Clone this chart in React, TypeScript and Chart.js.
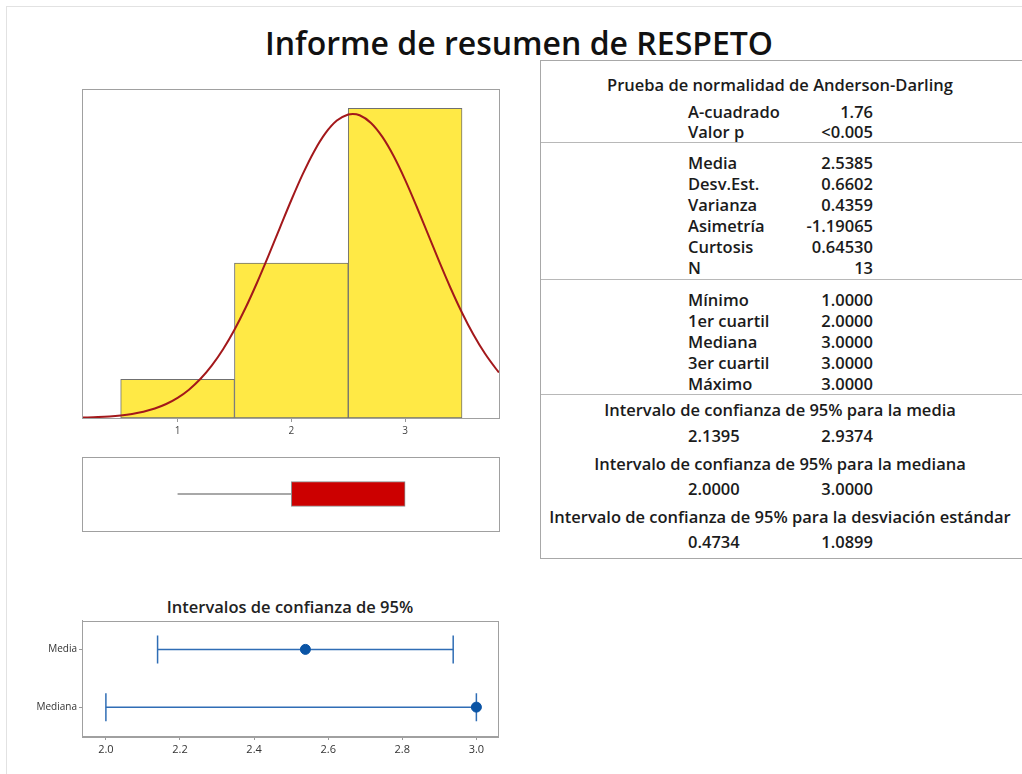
import React, { useEffect, useRef } from 'react';
import { Chart, registerables } from 'chart.js';
Chart.register(...registerables);

const FONT = '"Open Sans", "Noto Sans", sans-serif';

// ---------- data ----------
const reportTitle = 'Informe de resumen de RESPETO';
const binCenters = [1, 2, 3];
const binCounts = [1, 4, 8];
const histTicks = [1, 2, 3];
const histRange = [0.16, 3.825];
// fitted normal curve, in count units
const curveX = [0.16, 0.2, 0.3, 0.4, 0.5, 0.6, 0.7, 0.8, 0.9, 1.0, 1.1, 1.2, 1.3, 1.4, 1.5, 1.6, 1.7, 1.8, 1.9, 2.0, 2.1, 2.2, 2.3, 2.4, 2.5, 2.54, 2.6, 2.7, 2.8, 2.9, 3.0, 3.1, 3.2, 3.3, 3.4, 3.5, 3.6, 3.7, 3.8, 3.825];
const curveY = [0.012, 0.015, 0.025, 0.041, 0.067, 0.106, 0.163, 0.245, 0.361, 0.52, 0.732, 1.006, 1.352, 1.776, 2.28, 2.86, 3.507, 4.202, 4.921, 5.632, 6.3, 6.888, 7.359, 7.684, 7.842, 7.855, 7.821, 7.623, 7.262, 6.762, 6.153, 5.471, 4.755, 4.039, 3.353, 2.72, 2.157, 1.671, 1.266, 1.177];
// box plot: min, q1, median, q3, max
const boxStats = [1, 2, 3, 3, 3];

const ciTitle = 'Intervalos de confianza de 95%';
const ciCategories = ['Media', 'Mediana'];
const ciEstimates = [2.5385, 3.0];
const ciLower = [2.1395, 2.0];
const ciUpper = [2.9374, 3.0];
const ciRange = [1.9355, 3.057];

const adTitle = 'Prueba de normalidad de Anderson-Darling';
const adRows = [['A-cuadrado', '1.76'], ['Valor p', '<0.005']];
const descRows = [['Media', '2.5385'], ['Desv.Est.', '0.6602'], ['Varianza', '0.4359'], ['Asimetría', '-1.19065'], ['Curtosis', '0.64530'], ['N', '13']];
const quantRows = [['Mínimo', '1.0000'], ['1er cuartil', '2.0000'], ['Mediana', '3.0000'], ['3er cuartil', '3.0000'], ['Máximo', '3.0000']];
const ciTableRows = [
  ['Intervalo de confianza de 95% para la media', '2.1395', '2.9374'],
  ['Intervalo de confianza de 95% para la mediana', '2.0000', '3.0000'],
  ['Intervalo de confianza de 95% para la desviación estándar', '0.4734', '1.0899'],
];

// ---------- helpers ----------
const framePlugin = {
  id: 'frame',
  afterDatasetsDraw(chart: any, _args: any, opts: any) {
    const { ctx, chartArea: a } = chart;
    ctx.save();
    ctx.strokeStyle = opts.color || '#999';
    ctx.lineWidth = 1;
    ctx.strokeRect(Math.round(a.left) + 0.5, Math.round(a.top) + 0.5, Math.round(a.right - a.left), Math.round(a.bottom - a.top));
    ctx.restore();
  },
};

function ChartCanvas({ left, top, width, height, make }: any) {
  const ref = useRef<HTMLCanvasElement>(null);
  useEffect(() => {
    const chart = new Chart(ref.current as HTMLCanvasElement, make());
    return () => chart.destroy();
  }, []);
  return <canvas ref={ref} width={width} height={height} style={{ position: 'absolute', left, top, width, height }} />;
}

const histConfig = () => ({
  type: 'bar',
  data: {
    datasets: [
      {
        type: 'line',
        data: curveX.map((x, i) => ({ x, y: curveY[i] })),
        borderColor: '#A3181B',
        borderWidth: 2,
        pointRadius: 0,
        cubicInterpolationMode: 'monotone',
        order: 0,
      },
      {
        type: 'bar',
        data: binCenters.map((x, i) => ({ x, y: binCounts[i] })),
        backgroundColor: '#FFE945',
        borderColor: '#707070',
        borderWidth: 1,
        borderSkipped: false,
        barPercentage: 1,
        categoryPercentage: 1,
        order: 1,
      },
    ],
  },
  options: {
    responsive: false,
    animation: false,
    events: [],
    layout: { padding: { left: 12, right: 11, top: 9, bottom: 0 } },
    plugins: { legend: { display: false }, tooltip: { enabled: false }, frame: { color: '#a0a0a0' } },
    scales: {
      x: {
        type: 'linear',
        offset: false,
        min: histRange[0],
        max: histRange[1],
        afterBuildTicks: (s: any) => { s.ticks = histTicks.map((v) => ({ value: v })); },
        ticks: { font: { size: 10, family: FONT }, color: '#444', padding: 3 },
        grid: { display: true, offset: false, drawOnChartArea: false, drawTicks: true, tickLength: 4, color: '#999' },
        border: { display: true, color: '#a0a0a0' },
        afterFit: (s: any) => { s.height = 22; },
      },
      y: { type: 'linear', min: 0, max: 8.5, display: false },
    },
  },
  plugins: [framePlugin],
});

const boxConfig = () => ({
  type: 'bar',
  data: {
    labels: ['box'],
    datasets: [
      {
        type: 'line',
        data: [{ x: boxStats[0], y: 'box' }, { x: boxStats[1], y: 'box' }],
        borderColor: '#a8a8a8',
        borderWidth: 2,
        pointRadius: 0,
        order: 1,
      },
      {
        type: 'line',
        data: [{ x: boxStats[3], y: 'box' }, { x: boxStats[4], y: 'box' }],
        borderColor: '#a8a8a8',
        borderWidth: 2,
        pointRadius: 0,
        order: 1,
      },
      {
        type: 'bar',
        data: [[boxStats[1], boxStats[3]]],
        backgroundColor: '#CC0000',
        borderColor: '#8c8c8c',
        borderWidth: 1,
        borderSkipped: false,
        barThickness: 25,
        order: 0,
      },
    ],
  },
  options: {
    indexAxis: 'y',
    responsive: false,
    animation: false,
    events: [],
    layout: { padding: { left: 12, right: 11, top: 7, bottom: 9 } },
    plugins: { legend: { display: false }, tooltip: { enabled: false }, frame: { color: '#a0a0a0' } },
    scales: {
      x: { type: 'linear', min: histRange[0], max: histRange[1], display: false },
      y: { type: 'category', labels: ['box'], offset: true, display: false },
    },
  },
  plugins: [framePlugin],
});

const CI_BLUE = '#2F6DB5';
const ciConfig = () => ({
  type: 'scatter',
  data: {
    datasets: [
      ...ciCategories.map((c, i) => ({
        type: 'line',
        data: [{ x: ciLower[i], y: c }, { x: ciUpper[i], y: c }],
        borderColor: CI_BLUE,
        borderWidth: 1.5,
        pointStyle: 'line',
        pointRotation: 90,
        pointRadius: 14,
        pointBorderWidth: 1.5,
        pointBorderColor: CI_BLUE,
        order: 1,
      })),
      {
        type: 'scatter',
        data: ciCategories.map((c, i) => ({ x: ciEstimates[i], y: c })),
        pointRadius: 5,
        pointStyle: 'circle',
        backgroundColor: '#0A54A5',
        borderColor: '#0A54A5',
        order: 0,
      },
    ],
  },
  options: {
    responsive: false,
    animation: false,
    events: [],
    layout: { padding: { left: 0, right: 0, top: 6, bottom: 5 } },
    plugins: { legend: { display: false }, tooltip: { enabled: false }, frame: { color: '#a0a0a0' } },
    scales: {
      x: {
        type: 'linear',
        min: ciRange[0],
        max: ciRange[1],
        ticks: { stepSize: 0.2, includeBounds: false, font: { size: 11, family: FONT, weight: '500' }, color: '#333', padding: 3, callback: (v: any) => Number(v).toFixed(1) },
        grid: { display: true, drawOnChartArea: false, drawTicks: true, tickLength: 4, color: '#999' },
        border: { display: true, color: '#a0a0a0' },
        afterFit: (s: any) => { s.height = 26; },
      },
      y: {
        type: 'category',
        labels: ciCategories,
        offset: true,
        ticks: { font: { size: 10, family: FONT, weight: '500' }, color: '#333', padding: 2 },
        grid: { display: true, drawOnChartArea: false, drawTicks: true, tickLength: 3, color: '#999' },
        border: { display: true, color: '#a0a0a0' },
        afterFit: (s: any) => { s.width = 72; },
      },
    },
  },
  plugins: [framePlugin],
});

// ---------- table ----------
const TXT = '#1b1b1b';
const LABEL_X = 688;
const VALUE_R = 873;
const ROW_H = 21;
const TFS = 16.5;

function Line({ y, text, align }: any) {
  const base: any = { position: 'absolute', top: y - 11, height: 22, lineHeight: '22px', fontSize: TFS, fontWeight: 600, color: TXT, whiteSpace: 'nowrap' };
  if (align === 'center') return <div style={{ ...base, left: 530, width: 500, textAlign: 'center' }}>{text}</div>;
  if (align === 'left') return <div style={{ ...base, left: LABEL_X }}>{text}</div>;
  return <div style={{ ...base, left: VALUE_R - 200, width: 200, textAlign: 'right' }}>{text}</div>;
}

function PairRows({ rows, y0, step }: any) {
  return (
    <>
      {rows.map((r: string[], i: number) => (
        <React.Fragment key={i}>
          <Line y={y0 + i * step} text={r[0]} align="left" />
          <Line y={y0 + i * step} text={r[1]} align="right" />
        </React.Fragment>
      ))}
    </>
  );
}

function Sep({ y }: any) {
  return <div style={{ position: 'absolute', left: 541, top: y, width: 500, height: 0, borderTop: '1px solid #b8b8b8' }} />;
}

export default function App() {
  return (
    <div style={{ position: 'absolute', left: 0, top: 0, width: 1022, height: 774, overflow: 'hidden', background: '#fff', fontFamily: FONT }}>
      <div style={{ position: 'absolute', left: 6, top: 6, width: 1100, height: 1000, borderTop: '1px solid #e2e2e2', borderLeft: '1px solid #e2e2e2' }} />
      <div style={{ position: 'absolute', left: 119, top: 22, width: 800, height: 42, lineHeight: '42px', textAlign: 'center', fontSize: 32, fontWeight: 600, color: '#111' }}>{reportTitle}</div>

      <ChartCanvas left={70} top={80} width={440} height={360} make={histConfig} />
      <ChartCanvas left={70} top={450} width={440} height={90} make={boxConfig} />
      <div style={{ position: 'absolute', left: 90, top: 596, width: 400, height: 22, lineHeight: '22px', textAlign: 'center', fontSize: 16.5, fontWeight: 600, color: '#222' }}>{ciTitle}</div>
      <ChartCanvas left={10} top={605} width={503} height={162} make={ciConfig} />

      <div style={{ position: 'absolute', left: 540, top: 60, width: 500, height: 499, boxSizing: 'border-box', border: '1px solid #a8a8a8' }} />
      <Line y={85} text={adTitle} align="center" />
      <PairRows rows={adRows} y0={112} step={20} />
      <Sep y={142} />
      <PairRows rows={descRows} y0={163} step={ROW_H} />
      <Sep y={279} />
      <PairRows rows={quantRows} y0={300} step={ROW_H} />
      <Sep y={394} />
      {ciTableRows.map((r, i) => (
        <React.Fragment key={i}>
          <Line y={410 + i * 53.5} text={r[0]} align="center" />
          <Line y={436 + i * 53} text={r[1]} align="left" />
          <Line y={436 + i * 53} text={r[2]} align="right" />
        </React.Fragment>
      ))}
    </div>
  );
}
